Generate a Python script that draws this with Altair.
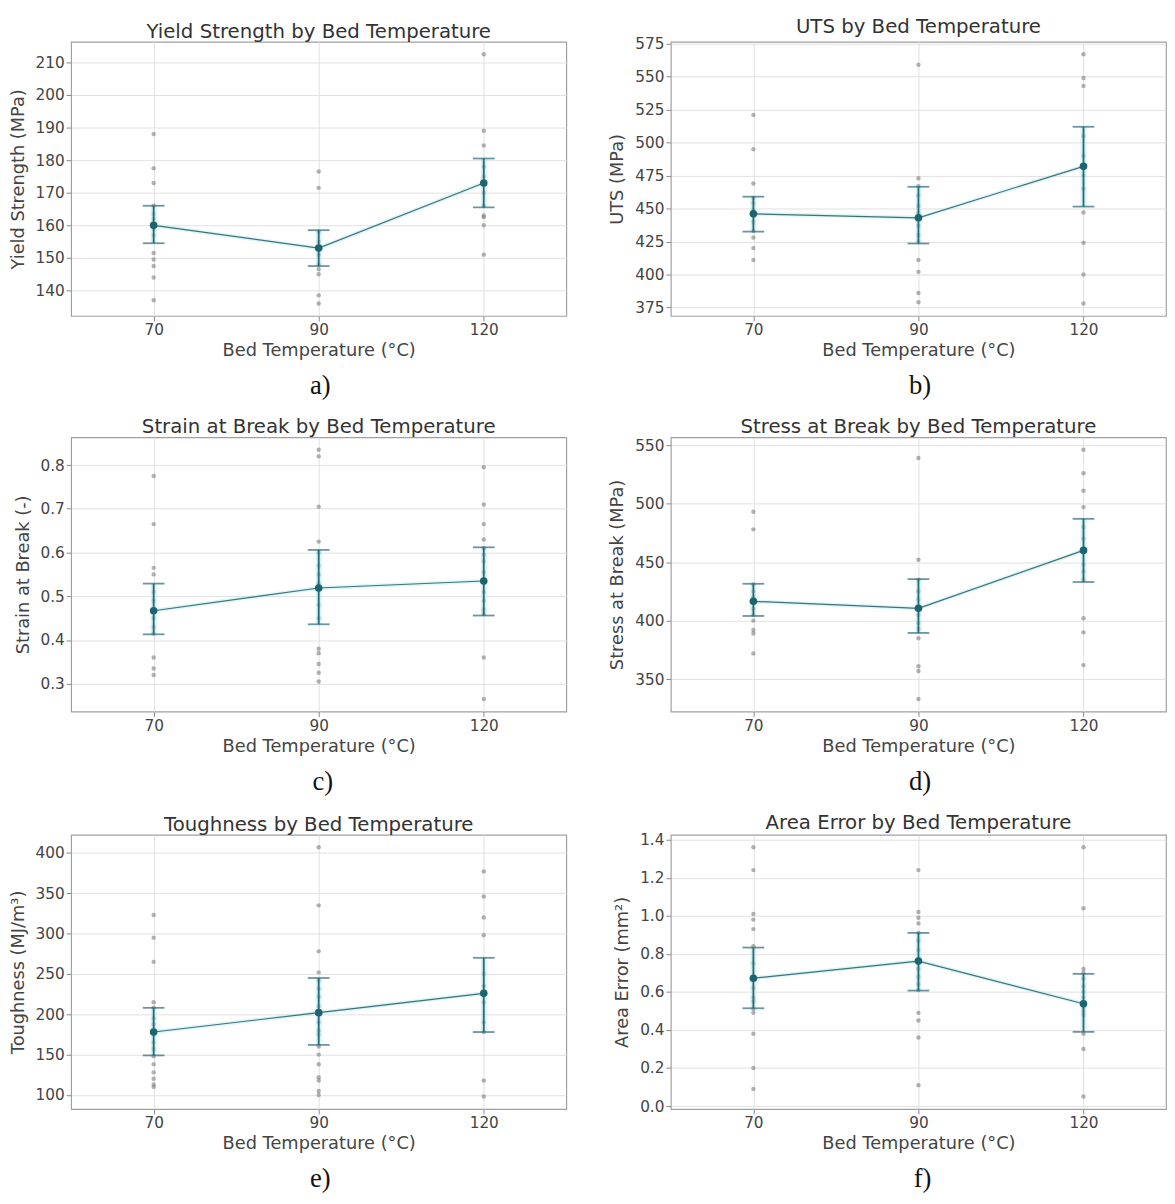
import altair as alt
import pandas as pd

temps = [70, 90, 120]

# a) Yield strength (MPa)
ys_70 = [188, 177.5, 173, 166, 163.5, 162, 159, 157, 151.5, 149.5, 147.5, 144, 137]
ys_90 = [176.5, 171.5, 158, 155, 153, 151, 148, 146.5, 145, 138.5, 136]
ys_120 = [212.5, 189, 184.5, 178, 175, 170, 166, 163, 162.5, 160, 151]
ys_mean = [160, 153, 173]
ys_lo = [154.5, 147.5, 165.5]
ys_hi = [166, 158.5, 180.5]

# b) UTS (MPa)
uts_70 = [521, 495, 469, 458, 454, 449, 440, 433, 428, 420, 411]
uts_90 = [559, 473, 467, 460, 452, 447, 437, 430, 425, 411, 402, 386, 379]
uts_120 = [567, 549, 543, 505, 490, 475, 465, 447, 424, 400, 378]
uts_mean = [446, 443, 482]
uts_lo = [432.5, 423.5, 451.5]
uts_hi = [459, 466.5, 512]

# c) Strain at break (-)
sb_70 = [0.775, 0.665, 0.565, 0.55, 0.51, 0.49, 0.45, 0.43, 0.415, 0.36, 0.335, 0.32]
sb_90 = [0.835, 0.82, 0.705, 0.625, 0.6, 0.57, 0.55, 0.53, 0.48, 0.45, 0.38, 0.37, 0.345, 0.325, 0.305]
sb_120 = [0.795, 0.71, 0.665, 0.63, 0.61, 0.595, 0.58, 0.555, 0.51, 0.49, 0.47, 0.46, 0.36, 0.265]
sb_mean = [0.467, 0.519, 0.535]
sb_lo = [0.413, 0.436, 0.456]
sb_hi = [0.529, 0.606, 0.612]

# d) Stress at break (MPa)
stb_70 = [493, 478, 431, 425, 420, 410, 405, 400, 392, 389, 372]
stb_90 = [539, 452, 435, 425, 418, 405, 398, 393, 385, 361, 357, 333]
stb_120 = [546, 526, 511, 497, 480, 470, 448, 442, 435, 402, 390, 362]
stb_mean = [416.5, 410.5, 460]
stb_lo = [404, 389.5, 433]
stb_hi = [431.5, 435.5, 487]

# e) Toughness (MJ/m3)
tg_70 = [323, 295, 265, 215, 208, 195, 188, 165, 157, 148, 138, 128, 120, 113, 110]
tg_90 = [407, 335, 278, 252, 242, 232, 222, 210, 190, 180, 175, 160, 150, 138, 122, 118, 105, 100]
tg_120 = [377, 346, 320, 298, 250, 235, 215, 190, 178, 118, 98]
tg_mean = [178, 202, 226]
tg_lo = [149, 162, 178]
tg_hi = [208, 245, 270]

# f) Area error (mm2)
ae_70 = [1.36, 1.24, 1.01, 0.98, 0.93, 0.84, 0.75, 0.62, 0.57, 0.55, 0.51, 0.49, 0.38, 0.20, 0.09]
ae_90 = [1.24, 1.02, 0.99, 0.96, 0.91, 0.87, 0.82, 0.72, 0.68, 0.64, 0.61, 0.49, 0.45, 0.36, 0.11]
ae_120 = [1.36, 1.04, 0.72, 0.70, 0.67, 0.63, 0.60, 0.57, 0.52, 0.50, 0.48, 0.38, 0.30, 0.05]
ae_mean = [0.672, 0.762, 0.538]
ae_lo = [0.514, 0.607, 0.39]
ae_hi = [0.833, 0.91, 0.695]

panels = [
    ("Yield Strength by Bed Temperature", "Yield Strength (MPa)", [ys_70, ys_90, ys_120],
     ys_mean, ys_lo, ys_hi, [140, 150, 160, 170, 180, 190, 200, 210], "d", "a)"),
    ("UTS by Bed Temperature", "UTS (MPa)", [uts_70, uts_90, uts_120],
     uts_mean, uts_lo, uts_hi, [375, 400, 425, 450, 475, 500, 525, 550, 575], "d", "b)"),
    ("Strain at Break by Bed Temperature", "Strain at Break (-)", [sb_70, sb_90, sb_120],
     sb_mean, sb_lo, sb_hi, [0.3, 0.4, 0.5, 0.6, 0.7, 0.8], ".1f", "c)"),
    ("Stress at Break by Bed Temperature", "Stress at Break (MPa)", [stb_70, stb_90, stb_120],
     stb_mean, stb_lo, stb_hi, [350, 400, 450, 500, 550], "d", "d)"),
    ("Toughness by Bed Temperature", "Toughness (MJ/m³)", [tg_70, tg_90, tg_120],
     tg_mean, tg_lo, tg_hi, [100, 150, 200, 250, 300, 350, 400], "d", "e)"),
    ("Area Error by Bed Temperature", "Area Error (mm²)", [ae_70, ae_90, ae_120],
     ae_mean, ae_lo, ae_hi, [0.0, 0.2, 0.4, 0.6, 0.8, 1.0, 1.2, 1.4], ".1f", "f)"),
]

DARK = "#2a6874"
GLOW = "#aeeaf0"
FONT = "DejaVu Sans"


def make_panel(title, ytitle, groups, mean, lo, hi, ticks, fmt, caption, width):
    pts = pd.DataFrame(
        [{"temp": t, "value": v} for t, g in zip(temps, groups) for v in g]
    )
    stats = pd.DataFrame({"temp": temps, "mean": mean, "lo": lo, "hi": hi})
    allv = list(pts["value"]) + lo + hi
    vmin, vmax = min(allv), max(allv)
    pad = (vmax - vmin) * 0.05
    yscale = alt.Scale(domain=[vmin - pad, vmax + pad], nice=False, zero=False)
    xenc = alt.X(
        "temp:O",
        scale=alt.Scale(type="point", padding=0.5),
        axis=alt.Axis(title="Bed Temperature (°C)", labelAngle=0, grid=True),
    )
    yaxis = alt.Axis(title=ytitle, values=ticks, format=fmt, grid=True,
                     titlePadding=8, labelOverlap=False)

    def Y(field):
        return alt.Y(field, scale=yscale, axis=yaxis)

    points = alt.Chart(pts).mark_circle(color="#737373", opacity=0.55, size=20).encode(
        x=xenc, y=Y("value:Q")
    )
    base = alt.Chart(stats).encode(x=xenc)
    glow_rule = base.mark_rule(color=GLOW, strokeWidth=6, opacity=0.55).encode(
        y=Y("lo:Q"), y2="hi:Q"
    )
    glow_line = base.mark_line(color=GLOW, strokeWidth=4, opacity=0.45).encode(
        y=Y("mean:Q")
    )
    line = base.mark_line(color="#436f78", strokeWidth=1.2).encode(y=Y("mean:Q"))
    rule = base.mark_rule(color=DARK, strokeWidth=1.8).encode(y=Y("lo:Q"), y2="hi:Q")
    cap_lo = base.mark_tick(color=DARK, thickness=1.8, size=22).encode(y=Y("lo:Q"))
    cap_hi = base.mark_tick(color=DARK, thickness=1.8, size=22).encode(y=Y("hi:Q"))
    mpt = base.mark_circle(color="#1d6471", size=60, opacity=1).encode(y=Y("mean:Q"))
    layer = alt.layer(
        points, glow_rule, glow_line, line, rule, cap_lo, cap_hi, mpt
    ).properties(
        width=width,
        height=278,
        title=alt.TitleParams(
            text=title, font=FONT, fontSize=20, fontWeight="normal",
            color="#333333", anchor="middle", frame="group", offset=0,
        ),
    )
    return alt.vconcat(layer).properties(
        title=alt.TitleParams(
            text=caption, orient="bottom", font="Liberation Serif", fontSize=27,
            fontWeight="normal", color="#111111", anchor="middle", dx=33, offset=13,
        )
    )


cells = []
for i, p in enumerate(panels):
    cells.append(make_panel(*p, width=502))

chart = alt.concat(*cells, columns=2, spacing={"row": 17, "column": 41}).properties(
    padding=0
).configure_view(
    stroke="#a0a0a0", strokeWidth=1.2
).configure_axis(
    domain=False,
    gridColor="#dddddd",
    gridWidth=0.9,
    tickColor="#888888",
    tickSize=5,
    labelFont=FONT,
    labelFontSize=15.5,
    labelColor="#444444",
    labelPadding=2,
    titleFont=FONT,
    titleFontSize=18,
    titleFontWeight="normal",
    titleColor="#444444",
    titlePadding=4,
)

chart.save("out.html", embed_options={"renderer": "svg", "actions": False})
